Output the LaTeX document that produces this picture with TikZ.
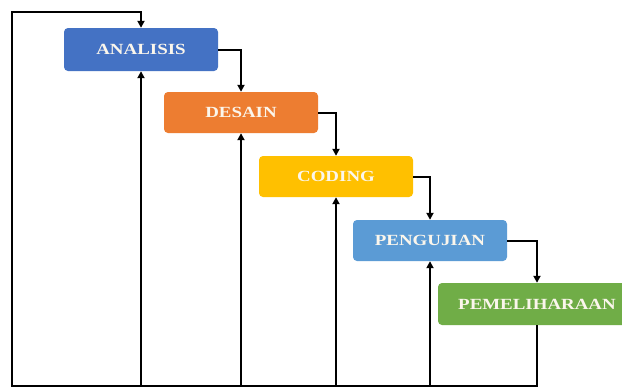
\documentclass[tikz,border=0pt]{standalone}
\usepackage{fontspec}
\setmainfont{Liberation Serif}
\usetikzlibrary{arrows.meta}
\definecolor{cA}{HTML}{4472C4}
\definecolor{cD}{HTML}{ED7D31}
\definecolor{cC}{HTML}{FFC000}
\definecolor{cG}{HTML}{5B9BD5}
\definecolor{cP}{HTML}{70AD47}
\definecolor{txt}{HTML}{FBF6EC}
\tikzset{
  phase/.style={rounded corners=4pt, minimum width=154pt, minimum height=41pt, inner sep=0pt,
    text=txt, font=\fontsize{15.5}{15.5}\selectfont\bfseries},
  link/.style={line width=2pt, -{Triangle[length=7pt,width=7pt]}}
}
\newcommand{\wide}[1]{\scalebox{1.22}[1]{#1}}
\begin{document}
\begin{tikzpicture}[x=1pt,y=-1pt]
\clip (0,0) rectangle (622,388);
\fill[white] (0,0) rectangle (622,388);
\node[phase, fill=cA, minimum height=43pt] (A) at (141,49.5) {\wide{ANALISIS}};
\node[phase, fill=cD] (D) at (241,112.5) {\wide{DESAIN}};
\node[phase, fill=cC] (C) at (336,176.5) {\wide{CODING}};
\node[phase, fill=cG] (G) at (430,240.5) {\wide{PENGUJIAN}};
\node[phase, fill=cP, minimum width=198pt, minimum height=42pt] (P) at (537,304) {\wide{PEMELIHARAAN}};
\coordinate (bl) at (12,386);
\coordinate (tl) at (12,12);
\draw[link] (A.east) -| (D.north);
\draw[link] (D.east) -| (C.north);
\draw[link] (C.east) -| (G.north);
\draw[link] (G.east) -| (P.north);
\draw[link, line join=miter] (P.south) |- (bl) -- (tl) -| (A.north);
\draw[link] (A.south |- bl) -- (A.south);
\draw[link] (D.south |- bl) -- (D.south);
\draw[link] (C.south |- bl) -- (C.south);
\draw[link] (G.south |- bl) -- (G.south);
\end{tikzpicture}
\end{document}
